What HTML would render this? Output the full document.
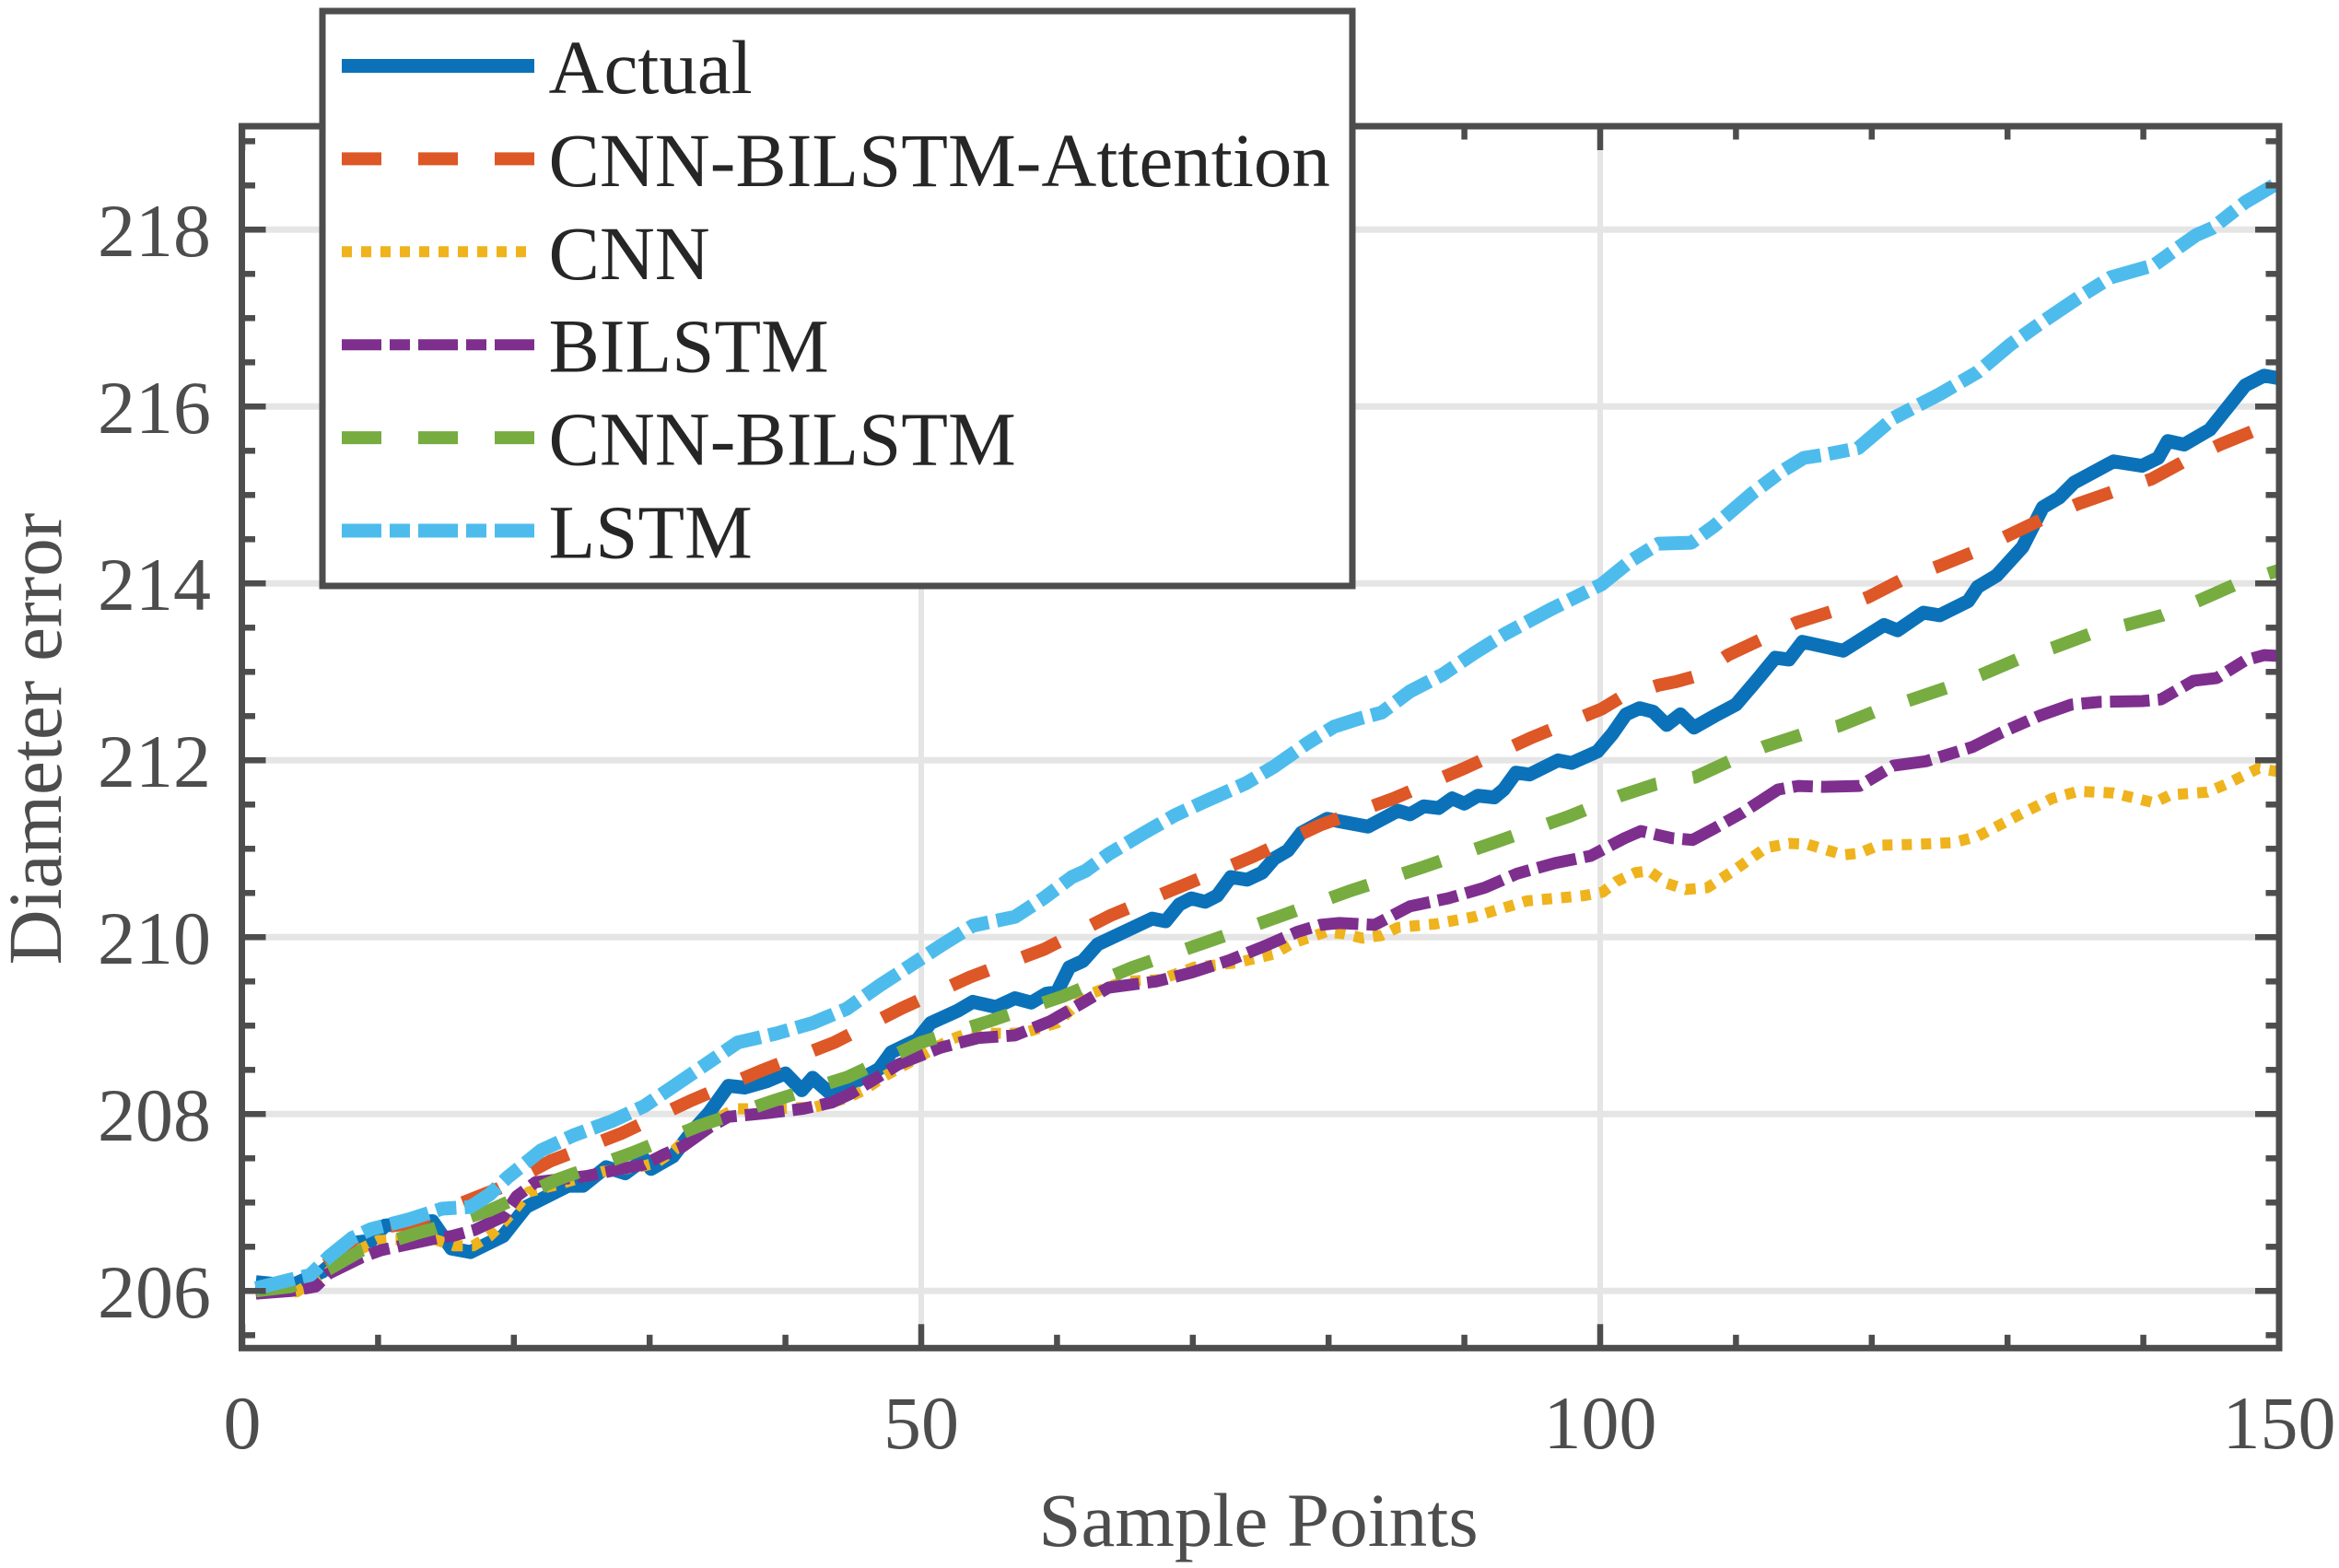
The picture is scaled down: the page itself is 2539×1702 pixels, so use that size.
<!DOCTYPE html>
<html>
<head>
<meta charset="utf-8">
<title>Diameter error vs sample points</title>
<style>
html,body{margin:0;padding:0;background:#fff;}
svg{display:block;}
text{font-family:"Liberation Serif","Times New Roman",serif;}
</style>
</head>
<body>
<svg id="chart" xmlns="http://www.w3.org/2000/svg" width="2539" height="1702" viewBox="0 0 2539 1702"></svg>
<script>
const actualSamples = [1,3.6,5.9,8.5,9.5,10.5,14,15.4,16.8,19.2,20.9,24,25.1,26.8,28.2,29.6,30.1,31.7,33,34.4,35.8,37,38.6,40,41.2,42,43.4,46.9,47.8,49.7,50.7,52.7,53.8,55.5,56.9,58.1,59.2,60,60.9,61.9,63,67,68,69,69.9,70.9,71.8,72.8,74,75.1,76,77,78,79.9,80.8,82.9,85.1,86,87,88.1,89.1,90,91,92.2,92.9,93.8,94.8,96.9,97.9,99.8,100.9,101.9,102.9,103.9,104.9,105.9,106.9,108.4,110,111.5,112.9,113.9,114.9,117.9,120.9,121.9,123.8,125,127.1,127.8,129.2,131.1,132.6,133.8,134.9,137.8,139.9,141.1,141.8,143,144.9,147.5,148.9,150];
const actualValues = [206.1,206.06,206.22,206.55,206.57,206.74,206.79,206.48,206.44,206.62,206.95,207.19,207.19,207.4,207.33,207.49,207.38,207.52,207.78,208.02,208.32,208.3,208.37,208.46,208.27,208.41,208.22,208.51,208.7,208.84,209.03,209.17,209.27,209.21,209.31,209.26,209.36,209.38,209.66,209.73,209.92,210.21,210.18,210.37,210.44,210.4,210.47,210.68,210.65,210.73,210.89,210.98,211.18,211.34,211.31,211.25,211.43,211.39,211.48,211.46,211.57,211.51,211.6,211.58,211.67,211.86,211.84,212,211.97,212.1,212.3,212.52,212.59,212.55,212.4,212.52,212.37,212.5,212.63,212.9,213.16,213.14,213.34,213.24,213.53,213.47,213.67,213.64,213.8,213.96,214.09,214.41,214.86,214.97,215.14,215.38,215.33,215.42,215.61,215.57,215.74,216.24,216.35,216.32];

const attentionSamples = [1,3.6,6.4,8.6,10.2,12.3,18.9,22.7,27.9,33,38.2,43.6,48.6,53.6,59,64,69.2,74.4,79.4,84.8,90,95,100.1,101.5,104.3,105.6,107,109.4,111.9,114.5,117.2,119.8,122.2,125,127.6,130,132.6,135.2,137.8,140.6,143,145.8,148.2,150];
const attentionValues = [206,206.05,206.32,206.57,206.72,206.76,207.16,207.47,207.78,208.15,208.49,208.81,209.2,209.55,209.86,210.25,210.58,210.91,211.27,211.57,211.91,212.26,212.58,212.71,212.85,212.89,212.95,213.19,213.37,213.56,213.69,213.85,214.04,214.2,214.36,214.54,214.73,214.9,215.04,215.18,215.38,215.58,215.73,215.82];

const cnnSamples = [1,4,6.2,8.8,10,11.2,14.2,15.6,17,18.2,19.2,20.1,21.1,23.4,26.5,29.2,30.5,31.8,33.4,36.3,39.3,42.2,44.5,45.8,47.2,50.7,52.1,53.5,56.2,57.6,60,62.1,64.9,67.6,70.1,73.2,76,77.3,79.8,81.1,82.5,83.9,85.1,87.9,90.7,93.3,94.6,97.4,98.8,100.2,101.2,102.6,103.6,104.9,106.3,107.9,109.8,112.2,113.9,115.3,117.9,119.1,120.5,123.3,126,127.8,131.2,133.3,135.2,137.8,140.8,142,144.7,146.1,148.5,150];
const cnnValues = [206,205.99,206.2,206.48,206.57,206.58,206.58,206.51,206.51,206.62,206.77,206.93,207.12,207.21,207.35,207.4,207.45,207.59,207.82,208.06,208.06,208.08,208.18,208.27,208.42,208.72,208.84,208.92,208.91,208.92,209.03,209.34,209.5,209.52,209.66,209.71,209.81,209.93,210.06,210.04,209.99,210.02,210.11,210.15,210.23,210.35,210.41,210.45,210.47,210.51,210.63,210.73,210.75,210.61,210.54,210.56,210.75,211.01,211.06,211.05,210.93,210.95,211.04,211.05,211.07,211.14,211.41,211.57,211.65,211.63,211.52,211.61,211.64,211.73,211.91,211.87];

const bilstmSamples = [1,3.6,5.4,6.4,8.8,10.2,12.3,14.4,15.4,17.1,19.2,20.2,21.6,25.4,27.9,29.6,31,32.4,34.4,35.8,38.6,41.3,43.4,44.8,46.5,48.3,51.4,54.2,56.9,59.5,61.9,63.8,67.3,69.9,72.7,75.3,77.7,79.4,80.8,83.4,86,88.8,91.5,93.9,96.7,99.3,101.8,103,105.3,106.8,108.4,110.5,113.1,114.6,116.4,119.1,121.6,124,127.4,129.5,132.3,134.7,136.8,139.9,141.3,143.7,145.4,147.5,148.9,150];
const bilstmValues = [205.97,206,206.05,206.2,206.38,206.46,206.53,206.6,206.62,206.69,206.84,207.07,207.23,207.3,207.38,207.43,207.54,207.63,207.85,207.97,208.01,208.06,208.13,208.23,208.39,208.56,208.75,208.86,208.89,209.05,209.26,209.43,209.5,209.6,209.74,209.9,210.06,210.14,210.16,210.14,210.35,210.44,210.56,210.72,210.84,210.92,211.12,211.2,211.12,211.1,211.23,211.41,211.67,211.71,211.7,211.71,211.94,211.99,212.15,212.31,212.5,212.63,212.66,212.67,212.69,212.9,212.93,213.13,213.19,213.18];

const cnnBilstmSamples = [1,3.6,6.4,8.8,12.8,14,18.2,23.2,28.7,33.7,39.1,44.6,50,55,60.4,65.6,70.9,76.3,81.5,86.9,92.2,97.6,101.5,104.1,107,109.4,112,114.8,117.6,120.2,122.8,125.5,128.1,130.7,133.3,136.1,138.7,141.4,144,146.8,150];
const cnnBilstmValues = [206,206.05,206.25,206.46,206.65,206.7,206.91,207.26,207.56,207.87,208.15,208.42,208.81,209.05,209.33,209.66,209.94,210.23,210.52,210.79,211.07,211.36,211.6,211.73,211.81,211.98,212.15,212.29,212.39,212.55,212.68,212.82,212.97,213.14,213.27,213.43,213.53,213.64,213.8,213.99,214.15];

const lstmSamples = [1,3.6,5,6.4,8.1,9.5,12.3,14.7,16.8,18.2,19.5,22,24.4,27.2,29.6,32,34.3,36.5,39.3,42,44.5,46.9,49.3,51.4,53.8,56.9,59,61.1,62.1,63.8,66.3,68.7,71.1,73.9,76,78.4,80.4,82.2,83.9,86,88.4,90.8,93,96.4,100.1,102.2,104.3,106.7,108.4,111.2,113.3,115,116.7,119,121.6,125,127.8,130.2,132.6,135.4,137.6,140.8,142.7,143.9,145.1,147.5,149.6];
const lstmValues = [206.03,206.13,206.18,206.39,206.6,206.7,206.81,206.93,206.95,207.09,207.28,207.59,207.76,207.92,208.09,208.34,208.58,208.81,208.91,209.03,209.19,209.45,209.69,209.9,210.13,210.23,210.44,210.68,210.75,210.94,211.17,211.38,211.55,211.74,211.93,212.19,212.38,212.47,212.54,212.78,212.97,213.22,213.43,213.71,213.99,214.25,214.45,214.46,214.65,215.02,215.26,215.42,215.46,215.53,215.87,216.14,216.39,216.7,216.96,217.25,217.46,217.6,217.81,217.94,218.02,218.31,218.5];

const xMajorTicks = [0,50,100,150];
const xMinorTicks = [10,20,30,40,60,70,80,90,110,120,130,140];
const yMajorTicks = [206,208,210,212,214,216,218];
const yMinorTicks = [205.5,206.5,207,207.5,208.5,209,209.5,210.5,211,211.5,212.5,213,213.5,214.5,215,215.5,216.5,217,217.5,218.5,219];
const xAxisTitle = 'Sample Points';
const yAxisTitle = 'Diameter error';

const svg = document.getElementById('chart');
const NS = 'http://www.w3.org/2000/svg';
const LEFT = 262.5, RIGHT = 2474, TOP = 137, BOTTOM = 1463.3;
const AXIS_COLOR = '#4d4d4d';
function xScale(v){ return 263 + v * 14.74; }
function yScale(v){ return 1401.3 - (v - 206) * 96; }
function make(tag, attrs, parent){
  const el = document.createElementNS(NS, tag);
  for (const k in attrs) el.setAttribute(k, attrs[k]);
  (parent || svg).appendChild(el);
  return el;
}

const defs = make('defs', {});
const clip = make('clipPath', {id:'plot-clip'}, defs);
make('rect', {x:LEFT, y:TOP, width:RIGHT-LEFT, height:BOTTOM-TOP}, clip);

const bg = make('rect', {x:0, y:0, width:2539, height:1702, fill:'#fff'});



// grid
const grid = make('g', {stroke:'#e5e5e5'});


yMajorTicks.forEach(function(t){
  const l = make('line', {x1:LEFT, x2:RIGHT, y1:yScale(t), y2:yScale(t), 'stroke-width':7}, grid);
  
  
});
xMajorTicks.forEach(function(t){
  const l = make('line', {x1:xScale(t), x2:xScale(t), y1:TOP, y2:BOTTOM, 'stroke-width':6}, grid);
  
  
});

// series
const seriesGroup = make('g', {'clip-path':'url(#plot-clip)', fill:'none', 'stroke-linejoin':'round', 'stroke-linecap':'butt'});


function pathFor(xs, ys){
  return xs.map(function(x, i){ return (i ? 'L' : 'M') + xScale(x).toFixed(1) + ' ' + yScale(ys[i]).toFixed(1); }).join('');
}
const actualLine = make('path', {d:pathFor(actualSamples, actualValues), stroke:'#0b72b9', 'stroke-width':15}, seriesGroup);


const attentionLine = make('path', {d:pathFor(attentionSamples, attentionValues), stroke:'#dd5727', 'stroke-width':14, 'stroke-dasharray':'43 40'}, seriesGroup);


const cnnLine = make('path', {d:pathFor(cnnSamples, cnnValues), stroke:'#eeb31d', 'stroke-width':12, 'stroke-dasharray':'11 10'}, seriesGroup);


const bilstmLine = make('path', {d:pathFor(bilstmSamples, bilstmValues), stroke:'#7e2f8e', 'stroke-width':13, 'stroke-dasharray':'43 9 22 9'}, seriesGroup);


const cnnBilstmLine = make('path', {d:pathFor(cnnBilstmSamples, cnnBilstmValues), stroke:'#77ac41', 'stroke-width':14, 'stroke-dasharray':'43 40'}, seriesGroup);


const lstmLine = make('path', {d:pathFor(lstmSamples, lstmValues), stroke:'#4dbcec', 'stroke-width':15, 'stroke-dasharray':'43 9 22 9'}, seriesGroup);



// axes box
const frame = make('rect', {x:LEFT, y:TOP, width:RIGHT-LEFT, height:BOTTOM-TOP, fill:'none', stroke:AXIS_COLOR, 'stroke-width':7});



// ticks
const ticks = make('g', {stroke:AXIS_COLOR, 'stroke-width':6.5});


function xTick(t, len){
  const a = make('line', {x1:xScale(t), x2:xScale(t), y1:BOTTOM, y2:BOTTOM-len}, ticks);
  
  
  const b = make('line', {x1:xScale(t), x2:xScale(t), y1:TOP, y2:TOP+len}, ticks);
  
  
}
function yTick(t, len){
  const a = make('line', {x1:LEFT, x2:LEFT+len, y1:yScale(t), y2:yScale(t)}, ticks);
  
  
  const b = make('line', {x1:RIGHT, x2:RIGHT-len, y1:yScale(t), y2:yScale(t)}, ticks);
  
  
}
xMajorTicks.forEach(function(t){ xTick(t, 26); });
xMinorTicks.forEach(function(t){ xTick(t, 14.5); });
yMajorTicks.forEach(function(t){ yTick(t, 26); });
yMinorTicks.forEach(function(t){ yTick(t, 14.5); });

// tick labels
xMajorTicks.forEach(function(t){
  const el = make('text', {x:xScale(t), y:1572, 'text-anchor':'middle', 'font-size':82, fill:AXIS_COLOR});
  el.textContent = String(t);
  
  
});
yMajorTicks.forEach(function(t){
  const el = make('text', {x:229, y:yScale(t)+28.5, 'text-anchor':'end', 'font-size':82, fill:AXIS_COLOR});
  el.textContent = String(t);
  
  
});

// axis titles
const xTitle = make('text', {x:1366, y:1678, 'text-anchor':'middle', 'font-size':83, fill:AXIS_COLOR});
xTitle.textContent = xAxisTitle;


const yTitle = make('text', {x:0, y:0, 'text-anchor':'middle', 'font-size':83, fill:AXIS_COLOR, transform:'translate(66 802) rotate(-90)'});
yTitle.textContent = yAxisTitle;



// legend
const legend = make('g', {});


const legendBox = make('rect', {x:350, y:12, width:1118, height:624, fill:'#fff', stroke:AXIS_COLOR, 'stroke-width':7}, legend);


const legendNames = ['Actual','CNN-BILSTM-Attention','CNN','BILSTM','CNN-BILSTM','LSTM'];
const legendColors = ['#0b72b9','#dd5727','#eeb31d','#7e2f8e','#77ac41','#4dbcec'];
const legendWidths = [15,14,12,12,14,15];
const legendDashes = ['none','43 40','11 10','43 9 22 9','43 40','43 9 22 9'];
legendNames.forEach(function(name, i){
  const rowY = 71.5 + i * 100.9;
  const swatch = make('line', {x1:371, x2:580, y1:rowY, y2:rowY, stroke:legendColors[i], 'stroke-width':legendWidths[i], 'stroke-dasharray':legendDashes[i]}, legend);
  
  
  const label = make('text', {x:595.5, y:rowY+29.5, 'font-size':83, fill:'#262626'}, legend);
  label.textContent = name;
  
  
});
</script>
</body>
</html>
